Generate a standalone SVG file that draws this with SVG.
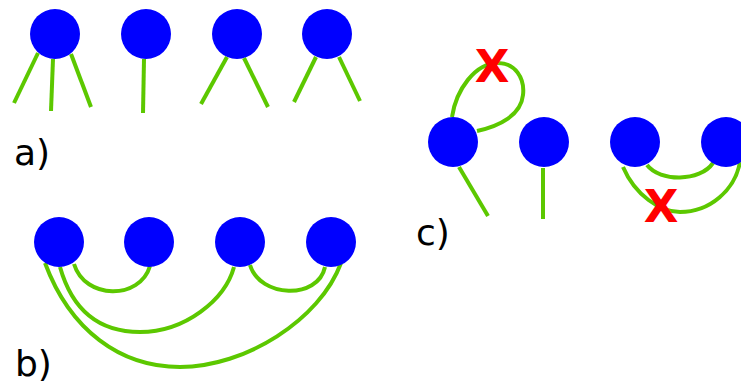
<svg xmlns="http://www.w3.org/2000/svg" width="741" height="383" viewBox="0 0 741 383">
<style>
.e{fill:none;stroke:#5cc800;stroke-width:4;stroke-linecap:butt}
.n{fill:#0000ff}
.lbl{font-family:"DejaVu Sans",sans-serif;font-size:36px;fill:#000}
.x{font-family:"DejaVu Sans",sans-serif;font-weight:bold;font-size:45px;fill:#ff0000;text-anchor:middle}
</style>
<rect width="741" height="383" fill="#fff"/>
<g id="connectors">
<!-- a -->
<line class="e" x1="38" y1="53" x2="14" y2="103"/>
<line class="e" x1="53" y1="59" x2="51" y2="111"/>
<line class="e" x1="71" y1="54" x2="91" y2="107"/>
<line class="e" x1="144" y1="59" x2="143" y2="113"/>
<line class="e" x1="227" y1="57" x2="201" y2="104"/>
<line class="e" x1="244" y1="58" x2="268" y2="107"/>
<line class="e" x1="316" y1="57" x2="294" y2="102"/>
<line class="e" x1="339" y1="57" x2="360" y2="101"/>
<!-- b -->
<path class="e" d="M74,264 C85,300 140,300 150,266"/>
<path class="e" d="M60,267 C75,320 110,332 140,332 C185,332 225,300 234,267"/>
<path class="e" d="M45,263 C70,330 120,367 180,367 C245,367 320,320 341,263"/>
<path class="e" d="M250,265 C260,298 318,300 325,267"/>
<!-- c -->
<line class="e" x1="459" y1="167" x2="488" y2="216"/>
<line class="e" x1="543" y1="168" x2="543" y2="219"/>
<path class="e" d="M452,117 C456,90 475,63 498,63 C515,63 525,78 523,95 C521,115 500,126 477,131"/>
<path class="e" d="M647,165 C660,182 700,182 713,163"/>
<path class="e" d="M623,167 C635,195 660,212 680,212 C710,212 735,190 740,162"/>
</g>
<g id="a1"><circle class="n" cx="55" cy="34" r="25"/></g>
<g id="a2"><circle class="n" cx="146" cy="34" r="25"/></g>
<g id="a3"><circle class="n" cx="237" cy="34" r="25"/></g>
<g id="a4"><circle class="n" cx="327" cy="34" r="25"/></g>
<g id="b1"><circle class="n" cx="59" cy="242" r="25"/></g>
<g id="b2"><circle class="n" cx="149" cy="242" r="25"/></g>
<g id="b3"><circle class="n" cx="240" cy="242" r="25"/></g>
<g id="b4"><circle class="n" cx="331" cy="242" r="25"/></g>
<g id="c1"><circle class="n" cx="453" cy="142" r="25"/></g>
<g id="c2"><circle class="n" cx="544" cy="142" r="25"/></g>
<g id="c3"><circle class="n" cx="635" cy="142" r="25"/></g>
<g id="c4"><circle class="n" cx="726" cy="142" r="25"/></g>
<g id="labels">
<text class="lbl" x="14" y="165">a)</text>
<text class="lbl" x="15" y="376">b)</text>
<text class="lbl" x="416" y="245">c)</text>
</g>
<g id="marks">
<text class="x" x="492" y="82">X</text>
<text class="x" x="661" y="222">X</text>
</g>
</svg>
